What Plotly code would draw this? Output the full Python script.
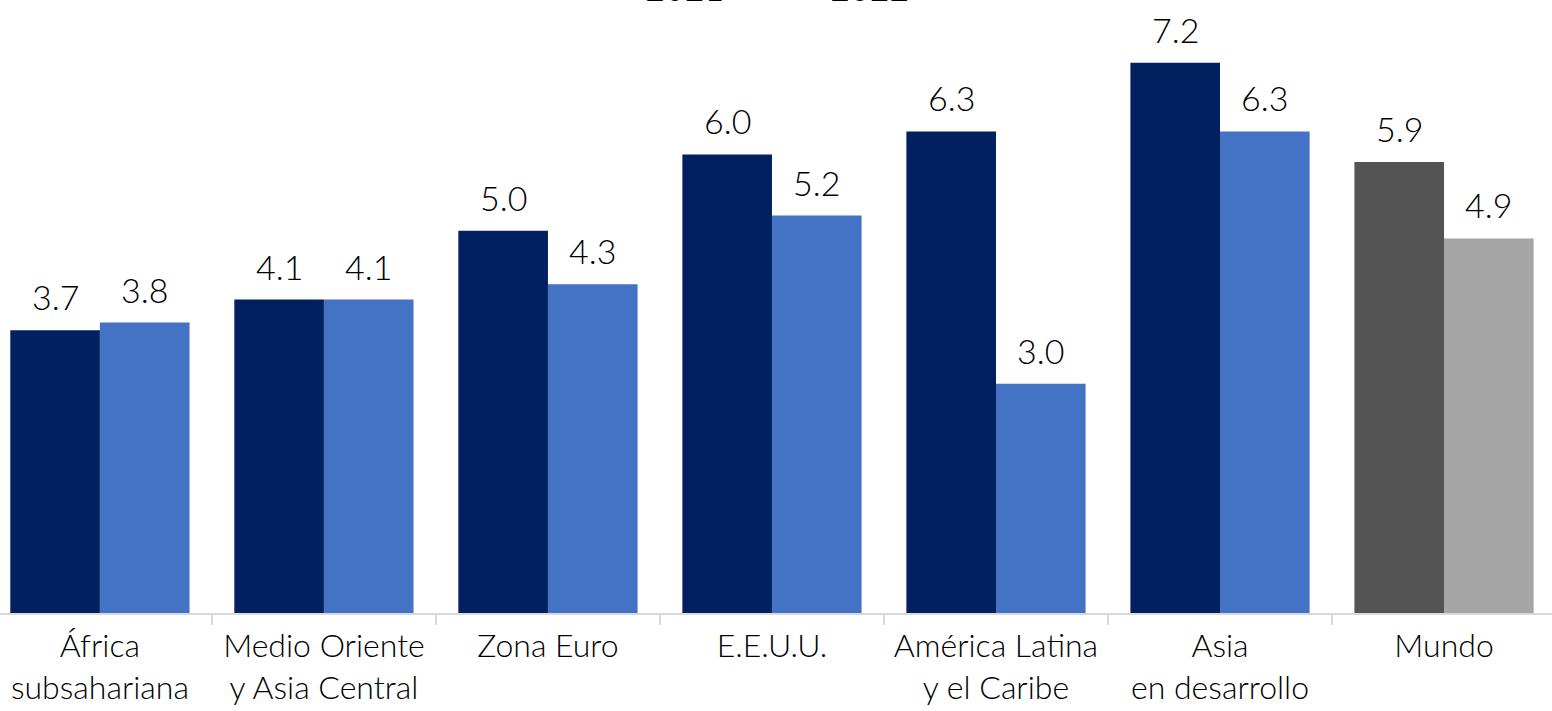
import plotly.graph_objects as go

categories = ["África<br>subsahariana", "Medio Oriente<br>y Asia Central", "Zona Euro",
              "E.E.U.U.", "América Latina<br>y el Caribe", "Asia<br>en desarrollo", "Mundo"]
values_2021 = [3.7, 4.1, 5.0, 6.0, 6.3, 7.2, 5.9]
values_2022 = [3.8, 4.1, 4.3, 5.2, 3.0, 6.3, 4.9]
series_names = ["2021", "2022"]

NAVY = "#002060"
BLUE = "#4472C4"
colors_2021 = [NAVY] * 6 + ["#545454"]
colors_2022 = [BLUE] * 6 + ["#A5A5A5"]

FONT = "Lato, 'Open Sans', sans-serif"
WEIGHT = 300

fig = go.Figure()
fig.add_trace(go.Bar(x=categories, y=values_2021, name=series_names[0],
                     marker=dict(color=colors_2021, line=dict(width=0))))
fig.add_trace(go.Bar(x=categories, y=values_2022, name=series_names[1],
                     marker=dict(color=colors_2022, line=dict(width=0))))

annotations = []
for i, c in enumerate(categories):
    for v, sh in ((values_2021[i], -44.8), (values_2022[i], 44.8)):
        annotations.append(dict(x=c, y=v, xref="x", yref="y", text=f"{v:.1f}",
                                showarrow=False, xshift=sh, yshift=11,
                                yanchor="bottom", xanchor="center",
                                font=dict(family=FONT, size=34, color="#000000", weight=WEIGHT)))

fig.update_layout(
    width=1552, height=711,
    margin=dict(l=0, r=0, t=0, b=98, autoexpand=False),
    paper_bgcolor="white", plot_bgcolor="white",
    barmode="group", bargap=0.2, bargroupgap=0,
    showlegend=True,
    legend=dict(orientation="h", x=0.39, xanchor="left", y=0.972, yanchor="bottom",
                font=dict(family=FONT, size=34, color="#000000", weight=WEIGHT),
                entrywidth=140, bgcolor="rgba(0,0,0,0)"),
    annotations=annotations,
    font=dict(family=FONT, size=32, color="#000000", weight=WEIGHT),
)
fig.update_xaxes(type="category", range=[-0.446, 6.482], showline=True, linecolor="#D9D9D9",
                 linewidth=2, ticks="outside", tickson="boundaries", ticklen=10,
                 tickcolor="#D9D9D9", tickwidth=2, showgrid=False, ticklabelstandoff=4,
                 tickfont=dict(family=FONT, size=32, color="#000000", weight=WEIGHT),
                 fixedrange=True)
fig.update_yaxes(range=[0, 8.02], visible=False, showgrid=False, zeroline=False, fixedrange=True)

fig.write_html("out.html", config={"displayModeBar": False},
               post_script="document.body.style.margin='0';")
